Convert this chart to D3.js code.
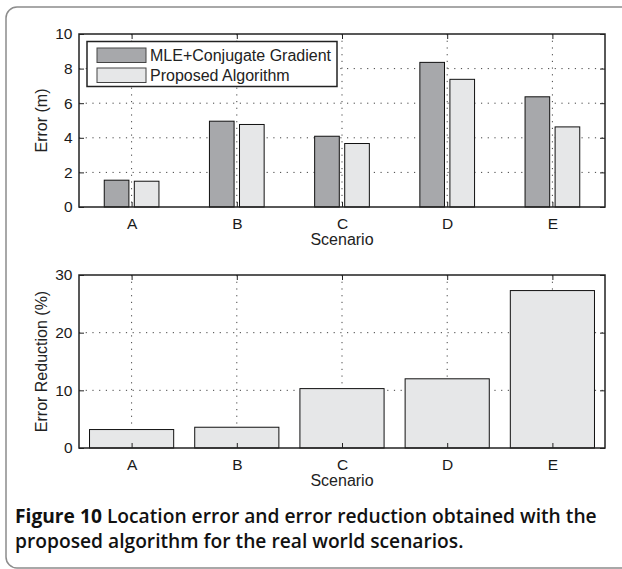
<!DOCTYPE html>
<html>
<head>
<meta charset="utf-8">
<script src="https://cdnjs.cloudflare.com/ajax/libs/d3/7.8.5/d3.min.js"></script>
<style>
  body { margin: 0; background: #fff; }
  svg text { font-family: "Liberation Sans", Arial, sans-serif; }
</style>
</head>
<body>
<div id="chart"></div>
<script>
var scenarios = ['A', 'B', 'C', 'D', 'E'];
var mleErr = [1.55, 4.96, 4.09, 8.36, 6.37];
var proposedErr = [1.49, 4.77, 3.67, 7.38, 4.63];
var reduction = [3.2, 3.6, 10.3, 12.0, 27.3];
var seriesNames = ['MLE+Conjugate Gradient', 'Proposed Algorithm'];
var errTicks = [0, 2, 4, 6, 8, 10];
var redTicks = [0, 10, 20, 30];

var W = 622, H = 569;
var left = 79, right = 605;
var dark = '#a7a8ab', light = '#e6e7e8';

var svg = d3.select('#chart').append('svg')
    .attr('width', W).attr('height', H);

// outer frame
svg.append('rect')
    .attr('x', 6).attr('y', 7)
    .attr('width', 640).attr('height', 561)
    .attr('rx', 11)
    .attr('fill', 'none')
    .attr('stroke', '#8c8c8c')
    .attr('stroke-width', 1.5);

function panel(top, bottom, yMax, ticks, yLabel) {
    var y = d3.scaleLinear().domain([0, yMax]).range([bottom, top]);
    var xc = d3.scalePoint().domain(scenarios).range([left, right]).padding(0.5);
    var g = svg.append('g');

    // dotted grid, drawn under the bars
    g.selectAll('.hg').data(ticks.slice(1, -1)).enter().append('line')
        .attr('x1', left).attr('x2', right)
        .attr('y1', function(d) { return y(d); }).attr('y2', function(d) { return y(d); })
        .attr('stroke', '#444').attr('stroke-width', 1).attr('stroke-dasharray', '1.2,5.5');
    g.selectAll('.vg').data(scenarios).enter().append('line')
        .attr('x1', function(d) { return xc(d); }).attr('x2', function(d) { return xc(d); })
        .attr('y1', top).attr('y2', bottom)
        .attr('stroke', '#444').attr('stroke-width', 1).attr('stroke-dasharray', '1.2,5.5');

    return { g: g, y: y, xc: xc, top: top, bottom: bottom, ticks: ticks, yLabel: yLabel };
}

function frame(p) {
    var g = svg.append('g');
    var y = p.y, xc = p.xc;
    var ax = g.append('g').attr('transform', 'translate(' + left + ',0)')
        .call(d3.axisLeft(y).tickValues(p.ticks).tickSize(-5).tickPadding(6.5));
    var axR = g.append('g').attr('transform', 'translate(' + right + ',0)')
        .call(d3.axisRight(y).tickValues(p.ticks).tickSize(-5).tickFormat(''));
    var axB = g.append('g').attr('transform', 'translate(0,' + p.bottom + ')')
        .call(d3.axisBottom(xc).tickSize(-5).tickPadding(11));
    var axT = g.append('g').attr('transform', 'translate(0,' + p.top + ')')
        .call(d3.axisTop(xc).tickSize(-5).tickFormat(''));
    [ax, axR, axB, axT].forEach(function(a) {
        a.select('.domain').remove();
        a.selectAll('line').attr('stroke', '#222').attr('stroke-width', 1);
        a.selectAll('text').attr('font-size', 15.5).attr('fill', '#1a1a1a')
            .style('font-family', '"Liberation Sans", Arial, sans-serif');
    });
    g.append('rect')
        .attr('x', left).attr('y', p.top)
        .attr('width', right - left).attr('height', p.bottom - p.top)
        .attr('fill', 'none').attr('stroke', '#222').attr('stroke-width', 1.5);

    g.append('text')
        .attr('x', (left + right) / 2).attr('y', p.bottom + 38)
        .attr('text-anchor', 'middle').attr('font-size', 16).attr('fill', '#222')
        .text('Scenario');
    g.append('text')
        .attr('transform', 'translate(47,' + ((p.top + p.bottom) / 2) + ') rotate(-90)')
        .attr('text-anchor', 'middle').attr('font-size', 16).attr('fill', '#222')
        .text(p.yLabel);
}

// top panel: grouped bars
var p1 = panel(34, 207, 10, errTicks, 'Error (m)');
var xTop = d3.scaleBand().domain(scenarios).range([left, right])
    .paddingInner(0.48).paddingOuter(0.24);
var xSub = d3.scaleBand().domain([0, 1]).range([0, xTop.bandwidth()]).paddingInner(0.18);
var groups = [mleErr, proposedErr];
var cols = [dark, light];
groups.forEach(function(vals, k) {
    p1.g.selectAll('.b' + k).data(vals).enter().append('rect')
        .attr('x', function(d, i) { return xTop(scenarios[i]) + xSub(k); })
        .attr('width', xSub.bandwidth())
        .attr('y', function(d) { return p1.y(d); })
        .attr('height', function(d) { return p1.y(0) - p1.y(d); })
        .attr('fill', cols[k]).attr('stroke', '#111').attr('stroke-width', 1);
});

// legend
var lg = p1.g.append('g');
lg.append('rect').attr('x', 87).attr('y', 41.5).attr('width', 250).attr('height', 45)
    .attr('fill', '#fff').attr('stroke', '#222').attr('stroke-width', 1.5);
seriesNames.forEach(function(name, k) {
    lg.append('rect').attr('x', 97).attr('y', 48 + k * 20).attr('width', 49).attr('height', 14.5)
        .attr('fill', cols[k]).attr('stroke', '#444').attr('stroke-width', 1);
    lg.append('text').attr('x', 150).attr('y', 61 + k * 20)
        .attr('font-size', 16).attr('fill', '#222').text(name);
});
frame(p1);

// bottom panel: reduction
var p2 = panel(275, 448, 30, redTicks, 'Error Reduction (%)');
var xBot = d3.scaleBand().domain(scenarios).range([left, right])
    .paddingInner(0.2).paddingOuter(0.1);
p2.g.selectAll('.r').data(reduction).enter().append('rect')
    .attr('x', function(d, i) { return xBot(scenarios[i]); })
    .attr('width', xBot.bandwidth())
    .attr('y', function(d) { return p2.y(d); })
    .attr('height', function(d) { return p2.y(0) - p2.y(d); })
    .attr('fill', light).attr('stroke', '#111').attr('stroke-width', 1);
frame(p2);

// caption
var cap = svg.append('text').attr('x', 15).attr('y', 523)
    .style('font-family', '"Open Sans", "Noto Sans", sans-serif')
    .attr('font-size', 18).attr('fill', '#111');
cap.append('tspan').attr('font-weight', 700).text('Figure 10 ');
cap.append('tspan').attr('font-weight', 600).text('Location error and error reduction obtained with the');
var cap2 = svg.append('text').attr('x', 15).attr('y', 548)
    .style('font-family', '"Open Sans", "Noto Sans", sans-serif')
    .attr('font-size', 18).attr('font-weight', 600).attr('fill', '#111')
    .text('proposed algorithm for the real world scenarios.');
// fit caption width to the reference line length
var w1 = cap.node().getComputedTextLength();
var fs = 18 * 582 / w1;
cap.attr('font-size', fs);
cap2.attr('font-size', fs);
</script>
</body>
</html>
